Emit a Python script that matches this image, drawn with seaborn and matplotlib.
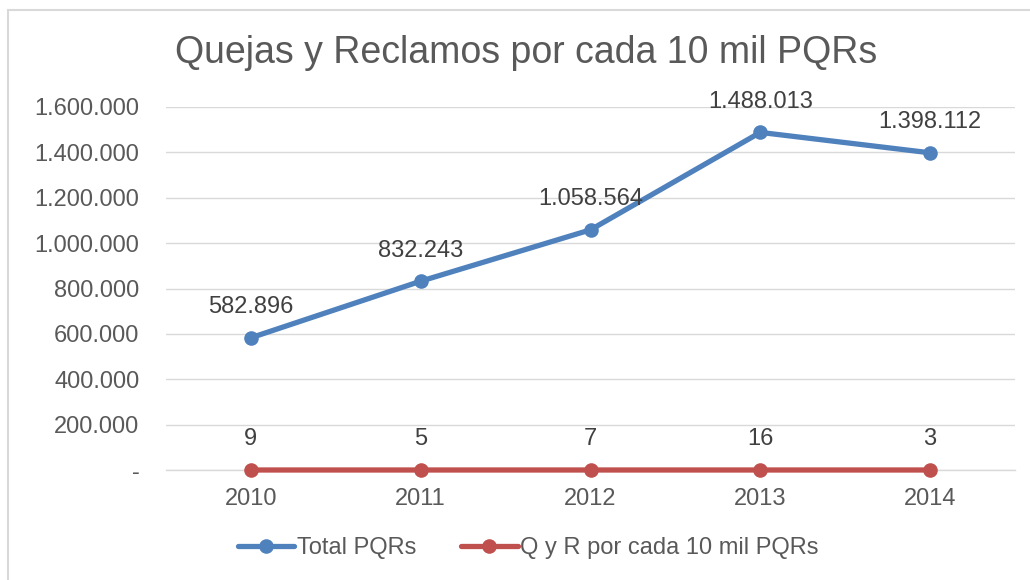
import matplotlib
matplotlib.use('Agg')
import matplotlib.pyplot as plt
from matplotlib.lines import Line2D
from matplotlib.patches import Rectangle
from matplotlib.ticker import FuncFormatter, FixedLocator
import seaborn as sns
import pandas as pd
import numpy as np

years = ['2010', '2011', '2012', '2013', '2014']
total_pqrs = [582896, 832243, 1058564, 1488013, 1398112]
qyr_per_10k = [9, 5, 7, 16, 3]
series_names = ['Total PQRs', 'Q y R por cada 10 mil PQRs']
colors = ['#4F81BD', '#C0504D']
title = 'Quejas y Reclamos por cada 10 mil PQRs'

sns.set_style("white")
plt.rcParams['font.family'] = ['Liberation Sans', 'DejaVu Sans']
txt_color = '#595959'
fs = 17


def fmt_thousands(v):
    if v == 0:
        return '-'
    return '{:,.0f}'.format(v).replace(',', '.')


df = pd.DataFrame({
    'year': list(range(len(years))) * 2,
    'value': total_pqrs + qyr_per_10k,
    'series': [series_names[0]] * len(years) + [series_names[1]] * len(years),
})

fig = plt.figure(figsize=(10.3, 5.8), dpi=100)
ax = fig.add_axes([166 / 1030, 1 - 470 / 580, (1015 - 166) / 1030, (470 - 107) / 580])

sns.lineplot(data=df, x='year', y='value', hue='series', hue_order=series_names,
             palette=colors, marker='o', markersize=10.5, markeredgewidth=0,
             linewidth=3.8, ax=ax, legend=False, zorder=3)
# red series sits on the axis line, don't cut it in half
for ln in ax.lines:
    ln.set_clip_on(False)

# data labels
for vals in [total_pqrs, qyr_per_10k]:
    for i, v in enumerate(vals):
        ax.annotate(fmt_thousands(v), (i, v), xytext=(0, 22), textcoords='offset points',
                    ha='center', va='center', fontsize=fs, color='#404040')

ax.set_xlim(-0.5, len(years) - 0.5)
ax.set_ylim(0, 1600000)
ax.set_yticks(np.arange(0, 1600001, 200000))
ax.yaxis.set_major_formatter(FuncFormatter(lambda v, p: fmt_thousands(v)))
ax.set_xticks(range(len(years)))
ax.set_xticklabels(years)
ax.xaxis.set_minor_locator(FixedLocator(np.arange(-0.5, len(years), 1.0)))
ax.tick_params(axis='y', length=0, pad=19, labelsize=fs, labelcolor=txt_color)
ax.tick_params(axis='x', which='major', length=0, pad=13, labelsize=fs, labelcolor=txt_color)
ax.tick_params(axis='x', which='minor', length=4, width=1, color='#BFBFBF', direction='out')
ax.grid(axis='y', color='#D9D9D9', linewidth=1)
ax.set_axisbelow(True)
ax.set_xlabel('')
ax.set_ylabel('')
for s in ['top', 'right', 'left']:
    ax.spines[s].set_visible(False)
ax.spines['bottom'].set_color('#D9D9D9')
ax.spines['bottom'].set_linewidth(1)
ax.spines['bottom'].set_zorder(1)

fig.text(0.511, 1 - 53 / 580, title, ha='center', va='center', fontsize=27, color=txt_color)

handles = [Line2D([0], [0], color=c, lw=3.8, marker='o', markersize=10.5, markeredgewidth=0)
           for c in colors]
fig.legend(handles, series_names, loc='center', bbox_to_anchor=(528 / 1030, 1 - 548 / 580),
           ncol=2, frameon=False, fontsize=fs, labelcolor=txt_color, handlelength=2.4,
           handletextpad=0.1, columnspacing=1.9)

fig.patches.append(Rectangle((8 / 1030, -0.1), 1.2, 1 - 10 / 580 + 0.1, transform=fig.transFigure,
                             fill=False, edgecolor='#D9D9D9', linewidth=1.5))

fig.savefig('out.png', dpi=100)
